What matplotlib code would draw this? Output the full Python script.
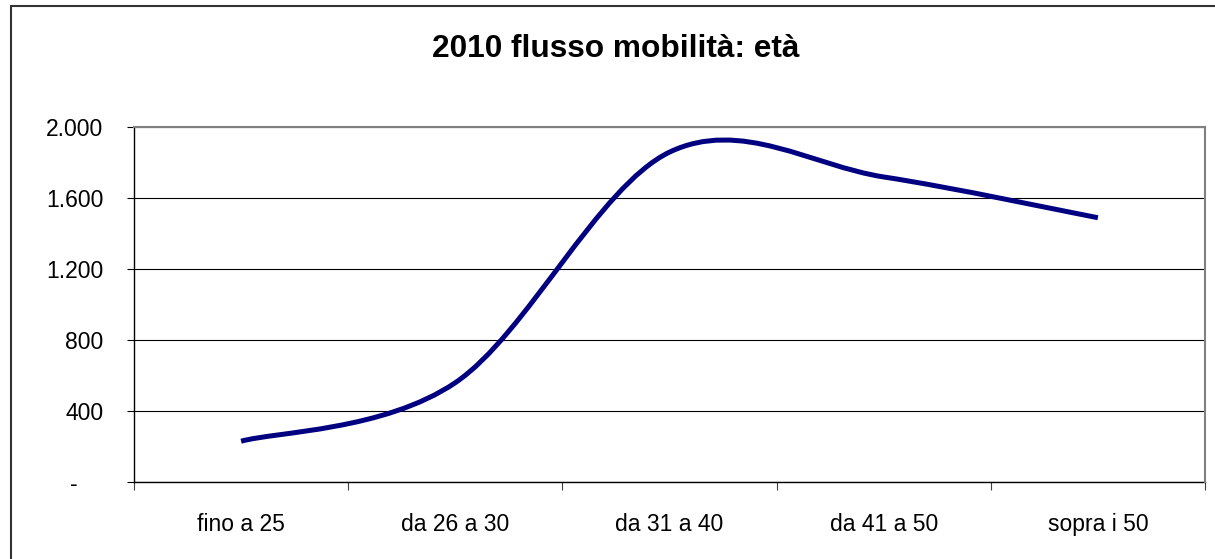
import numpy as np
import matplotlib.pyplot as plt
from matplotlib.path import Path
from matplotlib.patches import PathPatch, Rectangle
from matplotlib.ticker import FixedLocator, FuncFormatter

plt.rcParams['font.family'] = ['Liberation Sans', 'DejaVu Sans']

# data
categories = ['fino a 25', 'da 26 a 30', 'da 31 a 40', 'da 41 a 50', 'sopra i 50']
values = [230, 560, 1860, 1720, 1490]
y_ticks = [0, 400, 800, 1200, 1600, 2000]
title = '2010 flusso mobilità: età'


def smooth_path(xs, ys):
    # Excel-like smoothed line: Catmull-Rom turned into cubic Bezier pieces
    pts = np.column_stack([xs, ys]).astype(float)
    ext = np.vstack([pts[0], pts, pts[-1]])
    verts = [pts[0]]
    codes = [Path.MOVETO]
    for i in range(len(pts) - 1):
        p0, p1, p2, p3 = ext[i], ext[i + 1], ext[i + 2], ext[i + 3]
        c1 = p1 + (p2 - p0) / 6
        c2 = p2 - (p3 - p1) / 6
        verts += [c1, c2, p2]
        codes += [Path.CURVE4] * 3
    return Path(verts, codes)


fig = plt.figure(figsize=(12.15, 5.59), dpi=100)
ax = fig.add_axes([134 / 1215, 1 - 482 / 559, (1205 - 134) / 1215, (482 - 127.3) / 559])

x = np.arange(len(categories))
ax.add_patch(PathPatch(smooth_path(x, values), facecolor='none', edgecolor='#000080',
                       linewidth=3.6, capstyle='butt', joinstyle='round', zorder=3))

ax.set_xlim(-0.5, len(categories) - 0.5)
ax.set_ylim(0, 2000)

# ticks on category boundaries, labels in the middle
ax.xaxis.set_major_locator(FixedLocator(np.arange(len(categories) + 1) - 0.5))
ax.xaxis.set_minor_locator(FixedLocator(x))
ax.xaxis.set_major_formatter(FuncFormatter(lambda v, p: ''))
ax.xaxis.set_minor_formatter(FuncFormatter(lambda v, p: categories[int(round(v))]))
ax.tick_params(axis='x', which='major', length=6, width=0.8, color='#404040', direction='out')
ax.tick_params(axis='x', which='minor', length=0, pad=22, labelsize=16.5)

ax.set_yticks(y_ticks)
ax.yaxis.set_major_formatter(FuncFormatter(
    lambda v, p: '-    ' if v == 0 else f'{int(v):,}'.replace(',', '.')))
ax.tick_params(axis='y', length=5, width=0.8, color='#000000', direction='out',
               pad=17, labelsize=16.5)

ax.grid(axis='y', color='#000000', linewidth=0.8)
ax.set_axisbelow(True)

for side in ['left', 'bottom']:
    ax.spines[side].set_color('#000000')
    ax.spines[side].set_linewidth(1.0)
for side in ['top', 'right']:
    ax.spines[side].set_color('#808080')
    ax.spines[side].set_linewidth(1.5)
    ax.spines[side].set_zorder(4)

fig.text(616 / 1215, 1 - 56.7 / 559, title, ha='center', va='baseline',
         fontsize=22.8, fontweight='bold')

# outer chart border (clipped at the right and bottom of the picture)
fig.patches.append(Rectangle((11 / 1215, -0.05), 1.05, 1 - 5.7 / 559 + 0.05,
                             transform=fig.transFigure, fill=False,
                             edgecolor='#333333', linewidth=1.5))

fig.savefig('out.png', dpi=100)
